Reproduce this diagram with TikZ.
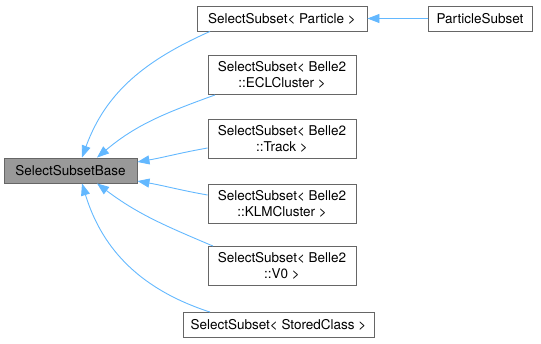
\documentclass[tikz,border=0pt]{standalone}
\usepackage{fontspec}
\setmainfont{TeX Gyre Heros}
\usepackage{xcolor}
\usepackage{tikz}
\usetikzlibrary{arrows.meta,positioning}
\definecolor{dxborder}{HTML}{666666}
\definecolor{dxbase}{HTML}{999999}
\definecolor{dxedge}{HTML}{63B8FF}
\tikzset{
  cbox/.style={rectangle, draw=dxborder, fill=white, line width=0.9pt, minimum height=25pt, align=center, font=\fontsize{13.5}{15.5}\selectfont, inner sep=2pt},
  cboxtwo/.style={cbox, minimum width=148pt, minimum height=39pt},
  cboxbase/.style={cbox, fill=dxbase},
  inh/.style={{Triangle[length=12pt,width=9pt]}-, line width=0.9pt, dxedge}
}

\begin{document}
\begin{tikzpicture}[x=1pt, y=1pt]
\useasboundingbox (0,0) rectangle (541,-343);
\node[cboxbase, minimum width=133pt] (base) at (70.5,-170.5) {SelectSubsetBase};
\node[cbox, minimum width=170pt] (particle) at (282,-18.5) {SelectSubset\textless{} Particle \textgreater};
\node[cbox, minimum width=104pt] (psub) at (480,-18.5) {ParticleSubset};
\node[cboxtwo] (ecl) at (282,-75) {SelectSubset\textless{} Belle2\\::ECLCluster \textgreater};
\node[cboxtwo] (track) at (282,-139) {SelectSubset\textless{} Belle2\\::Track \textgreater};
\node[cboxtwo] (klm) at (282,-204) {SelectSubset\textless{} Belle2\\::KLMCluster \textgreater};
\node[cboxtwo] (vzero) at (282,-266) {SelectSubset\textless{} Belle2\\::V0 \textgreater};
\node[cbox, minimum width=191pt] (stored) at (278.5,-325) {SelectSubset\textless{} StoredClass \textgreater};
% inheritance edges
\draw[inh] (particle) -- (psub);
\draw[inh] ([xshift=11.5pt]base.north) to[out=70, in=204] ([xshift=-72pt]particle.south);
\draw[inh] ([xshift=26.5pt]base.north) to[out=40, in=200] ([xshift=-67pt]ecl.south);
\draw[inh] ([yshift=8.5pt]base.east) to[out=10, in=190] ([yshift=-9pt]track.west);
\draw[inh] ([yshift=-10.5pt]base.east) to[out=350, in=170] ([yshift=9pt]klm.west);
\draw[inh] ([xshift=26.5pt]base.south) to[out=323, in=157] ([xshift=-69pt]vzero.north);
\draw[inh] ([xshift=11.5pt]base.south) to[out=287, in=162] ([xshift=-68.5pt]stored.north);
\end{tikzpicture}
\end{document}
